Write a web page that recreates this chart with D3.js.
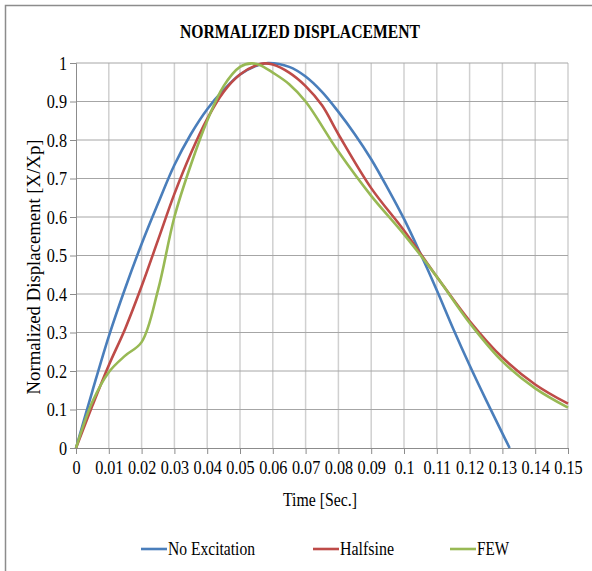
<!DOCTYPE html>
<html lang="en">
<head>
<meta charset="utf-8">
<title>Normalized Displacement</title>
<script src="https://cdn.jsdelivr.net/npm/d3@7"></script>
<style>
  body { margin: 0; background: #fff; }
  text { font-family: "Liberation Serif", "Times New Roman", serif; fill: #000; }
</style>
</head>
<body>
<script>
// data
var xTicks = [0, 0.01, 0.02, 0.03, 0.04, 0.05, 0.06, 0.07, 0.08, 0.09, 0.1, 0.11, 0.12, 0.13, 0.14, 0.15];
var yTicks = [0, 0.1, 0.2, 0.3, 0.4, 0.5, 0.6, 0.7, 0.8, 0.9, 1];

var noExcT = [0, 0.005, 0.01, 0.015, 0.02, 0.025, 0.03, 0.035, 0.04, 0.045, 0.05, 0.055, 0.0585, 0.065, 0.07, 0.075, 0.08, 0.085, 0.09, 0.095, 0.1, 0.105, 0.11, 0.115, 0.12, 0.125, 0.13, 0.1322];
var noExcV = [0, 0.148, 0.29, 0.415, 0.53, 0.635, 0.735, 0.815, 0.88, 0.93, 0.97, 0.993, 1.0, 0.99, 0.965, 0.925, 0.873, 0.815, 0.75, 0.675, 0.595, 0.505, 0.41, 0.31, 0.215, 0.125, 0.038, 0];

var halfT = [0, 0.005, 0.01, 0.015, 0.02, 0.025, 0.03, 0.035, 0.04, 0.045, 0.05, 0.055, 0.0575, 0.06, 0.065, 0.07, 0.075, 0.08, 0.09, 0.1, 0.11, 0.12, 0.13, 0.14, 0.15];
var halfV = [0, 0.11, 0.215, 0.31, 0.42, 0.54, 0.66, 0.765, 0.855, 0.925, 0.97, 0.994, 0.999, 0.996, 0.975, 0.94, 0.89, 0.815, 0.675, 0.565, 0.445, 0.33, 0.235, 0.165, 0.115];

var fewT = [0, 0.005, 0.01, 0.015, 0.02, 0.025, 0.03, 0.035, 0.04, 0.045, 0.05, 0.0535, 0.056, 0.06, 0.065, 0.07, 0.08, 0.09, 0.1, 0.11, 0.12, 0.13, 0.14, 0.15];
var fewV = [0, 0.12, 0.197, 0.24, 0.275, 0.41, 0.6, 0.735, 0.85, 0.94, 0.99, 0.999, 0.995, 0.975, 0.945, 0.9, 0.77, 0.655, 0.555, 0.445, 0.325, 0.225, 0.155, 0.105];

var seriesNames = ["No Excitation", "Halfsine", "FEW"];
var seriesColors = ["#4a7ebb", "#be4b48", "#98b954"];

var width = 592, height = 571;
var serif = "Liberation Serif, Times New Roman, serif";
var svg = d3.select("body").append("svg")
  .attr("width", width)
  .attr("height", height);

// outer chart frame (runs past the right / bottom edge in the original)
svg.append("rect")
  .attr("x", 5.5).attr("y", 5.5)
  .attr("width", 700).attr("height", 700)
  .attr("fill", "none")
  .attr("stroke", "#8c8c8c")
  .attr("stroke-width", 1.5);

var x = d3.scaleLinear().domain([0, 0.15]).range([76, 568]);
var y = d3.scaleLinear().domain([0, 1]).range([448, 63]);

// grid
svg.append("g").selectAll("line")
  .data(xTicks.slice(1))
  .enter().append("line")
  .attr("x1", d => x(d)).attr("x2", d => x(d))
  .attr("y1", y(1)).attr("y2", y(0))
  .attr("stroke", "#d0d0d0")
  .attr("stroke-width", 1.5);

svg.append("g").selectAll("line")
  .data(yTicks.slice(1))
  .enter().append("line")
  .attr("x1", x(0)).attr("x2", x(0.15))
  .attr("y1", d => y(d)).attr("y2", d => y(d))
  .attr("stroke", "#a6a6a6")
  .attr("stroke-width", 1);

// axes
var xAxis = d3.axisBottom(x).tickValues(xTicks).tickSize(6).tickFormat(d3.format("~g"));
var yAxis = d3.axisLeft(y).tickValues(yTicks).tickSize(6).tickFormat(d3.format("~g"));

var gx = svg.append("g").attr("transform", "translate(0," + y(0) + ")").call(xAxis);
var gy = svg.append("g").attr("transform", "translate(" + x(0) + ",0)").call(yAxis);

// labels in the original are a bit narrow, so squeeze them sideways
var squeeze = 0.9;
[gx, gy].forEach(function (g) {
  g.attr("font-family", serif).attr("font-size", 18);
  g.select(".domain").attr("stroke", "#8c8c8c").attr("stroke-width", 1);
  g.selectAll(".tick line").attr("stroke", "#8c8c8c");
  g.selectAll(".tick text")
    .attr("fill", "#000")
    .attr("transform", "scale(" + squeeze + ",1)");
});
gx.selectAll(".tick text").attr("y", 9).attr("dy", "0.95em");
gy.selectAll(".tick text").attr("x", -9 / squeeze).attr("dy", "0.34em");

// lines
var line = d3.line()
  .x(d => x(d[0]))
  .y(d => y(d[1]))
  .curve(d3.curveCatmullRom.alpha(0.5));

var series = [d3.zip(noExcT, noExcV), d3.zip(halfT, halfV), d3.zip(fewT, fewV)];

svg.append("g").selectAll("path")
  .data(series)
  .enter().append("path")
  .attr("d", line)
  .attr("fill", "none")
  .attr("stroke", (d, i) => seriesColors[i])
  .attr("stroke-width", 2.6)
  .attr("stroke-linejoin", "round");

// title and axis labels
svg.append("text")
  .attr("x", 300).attr("y", 38)
  .attr("text-anchor", "middle")
  .attr("font-family", serif)
  .attr("font-size", 18)
  .attr("font-weight", "bold")
  .attr("textLength", 240)
  .attr("lengthAdjust", "spacingAndGlyphs")
  .text("NORMALIZED DISPLACEMENT");

svg.append("text")
  .attr("transform", "translate(40,267) rotate(-90)")
  .attr("text-anchor", "middle")
  .attr("font-family", serif)
  .attr("font-size", 18)
  .attr("textLength", 255)
  .attr("lengthAdjust", "spacingAndGlyphs")
  .text("Normalized Displacement [X/Xp]");

svg.append("text")
  .attr("x", 320).attr("y", 506)
  .attr("text-anchor", "middle")
  .attr("font-family", serif)
  .attr("font-size", 18)
  .attr("textLength", 74)
  .attr("lengthAdjust", "spacingAndGlyphs")
  .text("Time [Sec.]");

// legend
var legendX = [141, 313, 450];
var legendLen = [87, 54, 32];
var legend = svg.append("g").selectAll("g")
  .data(seriesNames)
  .enter().append("g")
  .attr("transform", (d, i) => "translate(" + legendX[i] + ",549)");

legend.append("line")
  .attr("x1", 0).attr("x2", 26)
  .attr("stroke", (d, i) => seriesColors[i])
  .attr("stroke-width", 2.6);

legend.append("text")
  .attr("x", 27).attr("y", 6)
  .attr("font-family", serif)
  .attr("font-size", 18)
  .attr("textLength", (d, i) => legendLen[i])
  .attr("lengthAdjust", "spacingAndGlyphs")
  .text(d => d);
</script>
</body>
</html>
